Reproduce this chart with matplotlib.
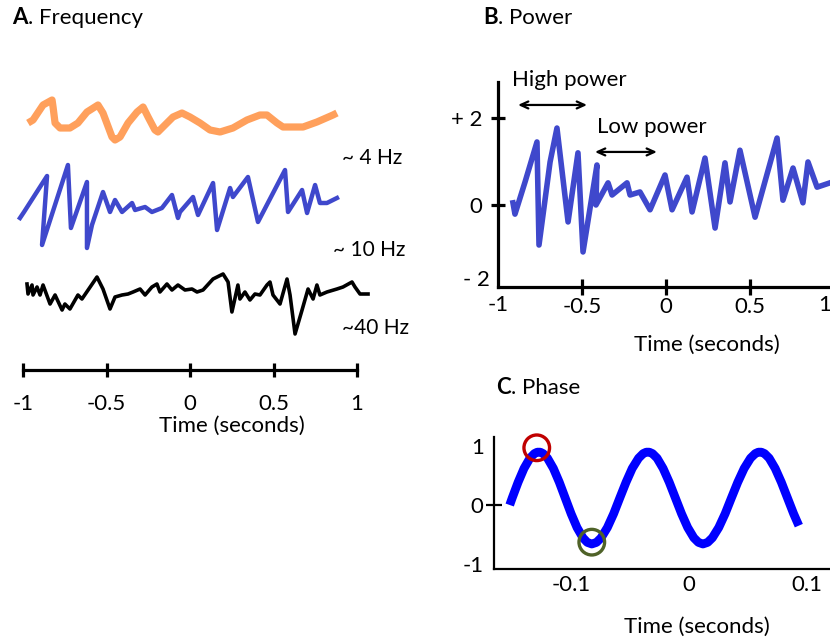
import matplotlib
matplotlib.use("Agg")
import matplotlib.pyplot as plt

plt.rcParams['font.family'] = ['Lato', 'DejaVu Sans']

# ---------------- data ----------------
# Panel A: three example oscillations (time in s, amplitude in arbitrary units)
theta_t = [-0.970, -0.940, -0.880, -0.826, -0.820, -0.808, -0.778, -0.719, -0.671, -0.617,
           -0.551, -0.521, -0.467, -0.449, -0.419, -0.371, -0.317, -0.281, -0.251, -0.210,
           -0.192, -0.162, -0.102, -0.048, 0.000, 0.060, 0.120, 0.180, 0.257, 0.341,
           0.419, 0.461, 0.521, 0.557, 0.617, 0.677, 0.760, 0.856, 0.880]
theta_v = [-0.15, 0.0, 0.75, 1.0, 0.65, -0.15, -0.4, -0.4, -0.15, 0.4,
           0.75, 0.35, -0.85, -1.0, -0.85, -0.15, 0.4, 0.65, 0.15, -0.5,
           -0.6, -0.35, 0.15, 0.35, 0.15, -0.15, -0.5, -0.6, -0.4, 0.0,
           0.25, 0.25, -0.15, -0.35, -0.35, -0.35, -0.1, 0.25, 0.35]

alpha_t = [-1.018, -0.994, -0.856, -0.886, -0.731, -0.713, -0.617, -0.617, -0.587, -0.521,
           -0.479, -0.449, -0.407, -0.347, -0.329, -0.269, -0.228, -0.168, -0.108, -0.072,
           -0.060, 0.018, 0.048, 0.138, 0.162, 0.240, 0.257, 0.347, 0.407, 0.569,
           0.587, 0.671, 0.701, 0.749, 0.778, 0.820, 0.880]
alpha_v = [-0.65, -0.35, 1.45, -2.0, 2.0, -1.15, 1.15, -2.15, -1.0, 0.65,
           -0.35, 0.25, -0.35, 0.1, -0.25, -0.1, -0.35, -0.15, 0.5, -0.65,
           -0.35, 0.4, -0.5, 1.1, -1.25, 0.85, 0.4, 1.4, -0.85, 1.75,
           -0.35, 0.75, -0.4, 1.0, 0.1, 0.1, 0.35]

gamma_t = [-0.976, -0.970, -0.946, -0.940, -0.916, -0.898, -0.880, -0.838, -0.808, -0.766,
           -0.749, -0.719, -0.671, -0.647, -0.557, -0.521, -0.479, -0.449, -0.407, -0.371,
           -0.341, -0.299, -0.269, -0.228, -0.198, -0.180, -0.138, -0.108, -0.072, -0.030,
           0.012, 0.042, 0.078, 0.138, 0.198, 0.228, 0.251, 0.287, 0.299, 0.329,
           0.359, 0.389, 0.419, 0.461, 0.479, 0.497, 0.539, 0.581, 0.599, 0.629,
           0.671, 0.707, 0.737, 0.760, 0.778, 0.820, 0.880, 0.916, 0.970, 0.988,
           1.018, 1.066]
gamma_v = [0.3, -0.2, 0.25, -0.25, 0.15, -0.25, 0.25, -0.7, -0.25, -1.0,
           -0.7, -0.95, -0.25, -0.45, 0.65, 0.05, -0.95, -0.35, -0.25, -0.2,
           -0.1, 0.05, -0.25, 0.15, 0.3, -0.1, 0.3, 0.0, 0.25, 0.0,
           0.05, -0.1, 0.0, 0.55, 0.8, 0.4, -1.1, 0.25, -0.45, -0.1,
           -0.5, -0.2, -0.25, 0.25, 0.4, -0.25, -0.7, 0.55, -0.25, -2.2,
           -1.0, 0.05, -0.45, 0.25, -0.25, -0.1, 0.05, 0.15, 0.4, 0.15,
           -0.2, -0.2]

freq_labels = ['~ 4 Hz', '~ 10 Hz', '~40 Hz']
time_ticks_a = [-1, -0.5, 0, 0.5, 1]
time_labels_a = ['-1', '-0.5', '0', '0.5', '1']

# Panel B: signal with high / low power
power_t = [-0.911, -0.899, -0.839, -0.768, -0.756, -0.690, -0.649, -0.583, -0.524, -0.494,
           -0.411, -0.417, -0.345, -0.321, -0.232, -0.214, -0.155, -0.095, -0.006, 0.036,
           0.125, 0.155, 0.232, 0.292, 0.351, 0.381, 0.440, 0.530, 0.661, 0.696,
           0.756, 0.815, 0.845, 0.899, 0.976]
power_v = [0.05, -0.21, 0.53, 1.45, -0.92, 0.99, 1.77, -0.39, 1.20, -1.08,
           0.92, 0.0, 0.51, 0.23, 0.51, 0.23, 0.30, -0.11, 0.69, -0.11,
           0.64, -0.16, 1.08, -0.53, 0.97, 0.07, 1.26, -0.28, 1.54, 0.11,
           0.85, 0.05, 0.99, 0.41, 0.51]
power_xticks = [-0.5, 0, 0.5]
power_xlabels = ['-0.5', '0', '0.5']
power_yticks = [2, 0]
power_ylabels = ['+ 2', '0']

# Panel C: phase (points read along the drawn wave)
phase_t = [-0.1517, -0.1496, -0.1446, -0.1396, -0.1346, -0.1308, -0.1284, -0.1258, -0.1234, -0.1197,
           -0.1147, -0.1097, -0.1047, -0.0997, -0.0947, -0.0897, -0.0860, -0.0822, -0.0782, -0.0743,
           -0.0690, -0.0637, -0.0585, -0.0532, -0.0480, -0.0426, -0.0387, -0.0361, -0.0335, -0.0308,
           -0.0269, -0.0218, -0.0166, -0.0114, -0.0062, -0.0010, 0.0042, 0.0081, 0.0119, 0.0159,
           0.0199, 0.0253, 0.0307, 0.0360, 0.0414, 0.0468, 0.0522, 0.0562, 0.0588, 0.0614,
           0.0641, 0.0680, 0.0731, 0.0783, 0.0835, 0.0887, 0.0931]
phase_v = [0.00, 0.119, 0.386, 0.620, 0.794, 0.872, 0.896, 0.896, 0.872, 0.794,
           0.620, 0.386, 0.119, -0.148, -0.382, -0.556, -0.634, -0.661, -0.634, -0.556,
           -0.382, -0.148, 0.119, 0.386, 0.620, 0.794, 0.872, 0.896, 0.896, 0.872,
           0.794, 0.620, 0.386, 0.119, -0.148, -0.382, -0.556, -0.634, -0.661, -0.634,
           -0.556, -0.382, -0.148, 0.119, 0.386, 0.620, 0.794, 0.872, 0.896, 0.896,
           0.872, 0.794, 0.620, 0.386, 0.119, -0.148, -0.350]
peak_mark = (-0.1288, 0.97)
trough_mark = (-0.0822, -0.63)
phase_xticks = [-0.1, 0, 0.1]
phase_xlabels = ['-0.1', '0', '0.1']
phase_yticks = [1, 0, -1]
phase_ylabels = ['1', '0', '-1']

# ---------------- layout helpers ----------------
W, H = 830, 643
fig = plt.figure(figsize=(8.3, 6.43), dpi=100)


def rect(x0, y0, x1, y1):
    return [x0 / W, 1 - y1 / H, (x1 - x0) / W, (y1 - y0) / H]


def fx(px):
    return px / W


def fy(py):
    return 1 - py / H


FS = 16
ORANGE = '#FFA05C'
MBLUE = '#3F48CC'

# ---------------- Panel A ----------------
axA = fig.add_axes(rect(23, 90, 357, 370))
axA.set_xlim(-1, 1)
axA.set_ylim(-12.5, 1.5)
offsets = [0.0, -4.25, -8.5]
axA.plot(theta_t, [v + offsets[0] for v in theta_v], color=ORANGE, lw=5.2,
         solid_joinstyle='round', solid_capstyle='butt', clip_on=False)
axA.plot(alpha_t, [v + offsets[1] for v in alpha_v], color=MBLUE, lw=3.2,
         solid_joinstyle='round', clip_on=False)
axA.plot(gamma_t, [v + offsets[2] for v in gamma_v], color='black', lw=2.6,
         solid_joinstyle='round', clip_on=False)
for s in ['top', 'right', 'left']:
    axA.spines[s].set_visible(False)
axA.spines['bottom'].set_linewidth(2.3)
axA.set_yticks([])
axA.set_xticks(time_ticks_a, labels=time_labels_a)
axA.tick_params(axis='x', direction='inout', length=10, width=2.3, pad=12, labelsize=FS)
axA.set_xlabel('Time (seconds)', fontsize=FS, va='center')
axA.xaxis.set_label_coords((232 - 23) / 334, (370 - 426) / 280)
axA.patch.set_alpha(0)

for lab, (x, y) in zip(freq_labels, [(342, 158), (333, 250), (342, 328)]):
    fig.text(fx(x), fy(y), lab, fontsize=FS - 1, va='center', ha='left')

# ---------------- Panel B ----------------
axB = fig.add_axes(rect(498, 82, 830, 287))
axB.set_xlim(-1, 0.976)
axB.set_ylim(-1.885, 2.828)
axB.plot(power_t, power_v, color=MBLUE, lw=4.0, solid_joinstyle='round')
for s in ['top', 'right']:
    axB.spines[s].set_visible(False)
for s in ['left', 'bottom']:
    axB.spines[s].set_linewidth(2.3)
axB.set_xticks(power_xticks, labels=power_xlabels)
axB.set_yticks(power_yticks, labels=power_ylabels)
axB.tick_params(axis='x', direction='inout', length=11, width=2.3, pad=2, labelsize=FS)
axB.tick_params(axis='y', direction='inout', length=10, width=2.3, pad=6, labelsize=FS)
axB.set_xlabel('Time (seconds)', fontsize=FS, va='center')
axB.xaxis.set_label_coords((707 - 498) / 332, (287 - 345) / 205)
axB.patch.set_alpha(0)
# labels that sit at / beyond the axis range
axB.annotate('-1', xy=(-1, 0), xycoords=('data', 'axes fraction'), xytext=(0, -13),
             textcoords='offset points', ha='center', va='center', fontsize=FS,
             annotation_clip=False)
axB.annotate('1', xy=(1, 0), xycoords=('data', 'axes fraction'), xytext=(-7, -13),
             textcoords='offset points', ha='center', va='center', fontsize=FS,
             annotation_clip=False)
fig.text(fx(490), fy(280), '- 2', fontsize=FS, ha='right', va='center')

axB.annotate('', xy=(-0.881, 2.30), xytext=(-0.470, 2.30),
             arrowprops=dict(arrowstyle='<->,head_length=0.55,head_width=0.25', lw=1.6,
                             color='black', shrinkA=0, shrinkB=0), annotation_clip=False)
axB.annotate('', xy=(-0.423, 1.22), xytext=(-0.054, 1.22),
             arrowprops=dict(arrowstyle='<->,head_length=0.55,head_width=0.25', lw=1.6,
                             color='black', shrinkA=0, shrinkB=0), annotation_clip=False)
axB.text(-0.917, 2.87, 'High power', fontsize=FS, ha='left', va='center', clip_on=False)
axB.text(-0.411, 1.79, 'Low power', fontsize=FS, ha='left', va='center', clip_on=False)

# ---------------- Panel C ----------------
axC = fig.add_axes(rect(494, 437, 830, 569))
axC.set_xlim(-0.165, 0.1195)
axC.set_ylim(-1.085, 1.153)
axC.plot(phase_t, phase_v, color='#0000FF', lw=6.3, solid_capstyle='butt',
         solid_joinstyle='round', clip_on=False)
axC.scatter([peak_mark[0]], [peak_mark[1]], s=340, facecolors='none',
            edgecolors='#C00000', linewidths=2.4, zorder=5, clip_on=False)
axC.scatter([trough_mark[0]], [trough_mark[1]], s=340, facecolors='none',
            edgecolors='#4F6228', linewidths=2.4, zorder=5, clip_on=False)
for s in ['top', 'right']:
    axC.spines[s].set_visible(False)
for s in ['left', 'bottom']:
    axC.spines[s].set_linewidth(1.6)
axC.set_xticks(phase_xticks, labels=phase_xlabels)
axC.set_yticks(phase_yticks, labels=phase_ylabels)
axC.tick_params(axis='x', length=0, pad=4, labelsize=FS)
axC.tick_params(axis='y', direction='inout', length=11, width=1.6, pad=2, labelsize=FS)
for i, tk in enumerate(axC.yaxis.get_major_ticks()):
    if phase_yticks[i] != 0:
        tk.tick1line.set_visible(False)
axC.set_xlabel('Time (seconds)', fontsize=FS, va='center')
axC.xaxis.set_label_coords((697 - 494) / 336, (569 - 627) / 132)
axC.patch.set_alpha(0)

# ---------------- titles ----------------
fig.canvas.draw()
renderer = fig.canvas.get_renderer()


def panel_title(x, y, letter, rest):
    t = fig.text(fx(x), fy(y), letter, fontsize=FS, fontweight='bold', ha='left', va='center')
    bb = t.get_window_extent(renderer=renderer)
    fig.text(bb.x1 / fig.bbox.width, fy(y), rest, fontsize=FS, ha='left', va='center')


panel_title(12, 18, 'A', '. Frequency')
panel_title(483, 18, 'B', '. Power')
panel_title(496, 388, 'C', '. Phase')

fig.savefig('out.png', dpi=100)
